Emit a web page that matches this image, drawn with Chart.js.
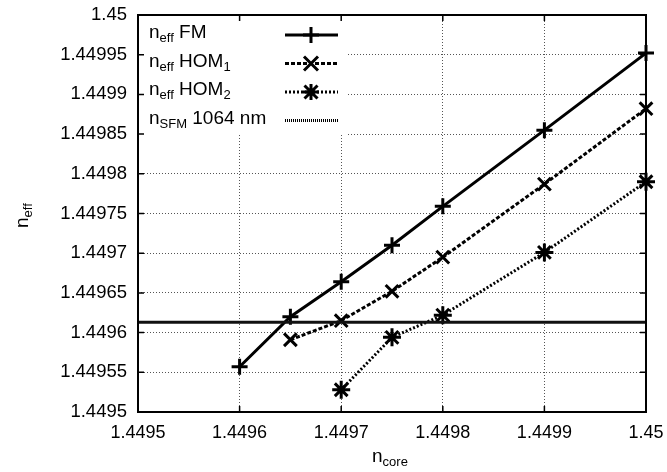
<!DOCTYPE html>
<html lang="en">
<head>
  <meta charset="UTF-8">
  <title>n_eff vs n_core</title>
  <script src="https://cdn.jsdelivr.net/npm/chart.js"></script>
  <style>
    html, body { margin: 0; padding: 0; background: #fff; }
    #wrap { width: 667px; height: 472px; }
  </style>
</head>
<body>
  <div id="wrap"><canvas id="chart"></canvas></div>

  <script>
    // data
    const fmX = [1.4496, 1.44965, 1.4497, 1.44975, 1.4498, 1.4499, 1.45];
    const fmVals = [1.449557, 1.44962, 1.449664, 1.44971, 1.449759, 1.449855, 1.449952];
    const hom1X = [1.44965, 1.4497, 1.44975, 1.4498, 1.4499, 1.45];
    const hom1Vals = [1.449591, 1.449615, 1.449652, 1.449695, 1.449787, 1.449882];
    const hom2X = [1.4497, 1.44975, 1.4498, 1.4499, 1.45];
    const hom2Vals = [1.449528, 1.449594, 1.449622, 1.449701, 1.44979];
    const sfmX = [1.4495, 1.45];
    const sfmVals = [1.449613, 1.449613];

    const xTicks = [1.4495, 1.4496, 1.4497, 1.4498, 1.4499, 1.45];
    const xTickLabels = ['1.4495', '1.4496', '1.4497', '1.4498', '1.4499', '1.45'];
    const yTicks = [1.4495, 1.44955, 1.4496, 1.44965, 1.4497, 1.44975, 1.4498, 1.44985, 1.4499, 1.44995, 1.45];
    const yTickLabels = ['1.4495', '1.44955', '1.4496', '1.44965', '1.4497', '1.44975', '1.4498', '1.44985', '1.4499', '1.44995', '1.45'];

    const FONT = '"Liberation Sans", Arial, sans-serif';
    const pts = (xs, ys) => xs.map((x, i) => ({ x: x, y: ys[i] }));

    // text with a subscript part
    function subText(ctx, x, y, main, sub, rest, size, sub2) {
      const small = Math.round(size * 0.7);
      ctx.font = size + 'px ' + FONT;
      ctx.fillText(main, x, y);
      let w = ctx.measureText(main).width;
      ctx.font = small + 'px ' + FONT;
      ctx.fillText(sub, x + w, y + size * 0.3);
      w += ctx.measureText(sub).width;
      if (rest) {
        ctx.font = size + 'px ' + FONT;
        ctx.fillText(rest, x + w, y);
        w += ctx.measureText(rest).width;
      }
      if (sub2) {
        ctx.font = small + 'px ' + FONT;
        ctx.fillText(sub2, x + w, y + size * 0.3);
      }
    }

    function marker(ctx, style, x, y) {
      ctx.save();
      ctx.lineWidth = 3;
      ctx.setLineDash([]);
      ctx.beginPath();
      if (style === 'cross' || style === 'star') {
        ctx.moveTo(x - 8, y); ctx.lineTo(x + 8, y);
        ctx.moveTo(x, y - 8); ctx.lineTo(x, y + 8);
      }
      if (style === 'crossRot' || style === 'star') {
        const r = style === 'star' ? 6.5 : 7;
        ctx.moveTo(x - r, y - r); ctx.lineTo(x + r, y + r);
        ctx.moveTo(x - r, y + r); ctx.lineTo(x + r, y - r);
      }
      ctx.stroke();
      ctx.restore();
    }

    const overlay = {
      id: 'overlay',
      beforeDatasetsDraw(chart) {
        const ctx = chart.ctx;
        const a = chart.chartArea;
        // white legend box hides the grid behind it
        ctx.save();
        ctx.fillStyle = '#fff';
        ctx.fillRect(a.left + 1, a.top + 1, 208, 119);
        ctx.restore();
      },
      afterDraw(chart) {
        const ctx = chart.ctx;
        const a = chart.chartArea;
        const xs = chart.scales.x, ys = chart.scales.y;
        ctx.save();
        ctx.strokeStyle = '#000';
        ctx.fillStyle = '#000';

        // frame
        ctx.lineWidth = 2;
        ctx.strokeRect(a.left, a.top, a.right - a.left, a.bottom - a.top);

        // inward ticks on all sides
        ctx.lineWidth = 1.5;
        ctx.beginPath();
        xTicks.forEach(v => {
          const px = xs.getPixelForValue(v);
          ctx.moveTo(px, a.bottom); ctx.lineTo(px, a.bottom - 6);
          ctx.moveTo(px, a.top); ctx.lineTo(px, a.top + 6);
        });
        yTicks.forEach(v => {
          const py = ys.getPixelForValue(v);
          ctx.moveTo(a.left, py); ctx.lineTo(a.left + 6, py);
          ctx.moveTo(a.right, py); ctx.lineTo(a.right - 6, py);
        });
        ctx.stroke();

        // legend
        const rows = [
          { sub: 'eff', rest: ' FM', dash: [], style: 'cross' },
          { sub: 'eff', rest: ' HOM', sub2: '1', dash: [4, 2], style: 'crossRot' },
          { sub: 'eff', rest: ' HOM', sub2: '2', dash: [2, 2], style: 'star' },
          { sub: 'SFM', rest: ' 1064 nm', dash: [1, 1], style: null }
        ];
        ctx.textBaseline = 'middle';
        ctx.textAlign = 'left';
        rows.forEach((r, i) => {
          const y = a.top + 20 + i * 28.5;
          subText(ctx, a.left + 11, y - 2, 'n', r.sub, r.rest, 19, r.sub2);
          ctx.lineWidth = 3;
          ctx.setLineDash(r.dash);
          ctx.beginPath();
          ctx.moveTo(a.left + 147, y);
          ctx.lineTo(a.left + 200, y);
          ctx.stroke();
          ctx.setLineDash([]);
          if (r.style) marker(ctx, r.style, a.left + 173, y);
        });

        // axis titles
        subText(ctx, 372, 457, 'n', 'core', '', 19);
        ctx.translate(23, 228);
        ctx.rotate(-Math.PI / 2);
        subText(ctx, 0, 0, 'n', 'eff', '', 19);
        ctx.restore();
      }
    };

    const base = {
      showLine: true,
      borderColor: '#000',
      backgroundColor: '#000',
      borderWidth: 3,
      pointBorderWidth: 3,
      pointBorderColor: '#000',
      tension: 0
    };

    new Chart(document.getElementById('chart'), {
      type: 'scatter',
      data: {
        datasets: [
          Object.assign({}, base, { label: 'SFM', data: pts(sfmX, sfmVals), borderColor: '#111', pointRadius: 0, pointHitRadius: 0 }),
          Object.assign({}, base, { label: 'FM', data: pts(fmX, fmVals), pointStyle: 'cross', pointRadius: 8, clip: false }),
          Object.assign({}, base, { label: 'HOM1', data: pts(hom1X, hom1Vals), borderDash: [4, 2], pointStyle: 'crossRot', pointRadius: 9, clip: false }),
          Object.assign({}, base, { label: 'HOM2', data: pts(hom2X, hom2Vals), borderDash: [2, 2], pointStyle: 'star', pointRadius: 9, clip: false })
        ]
      },
      options: {
        responsive: true,
        maintainAspectRatio: false,
        animation: false,
        layout: { padding: { left: 0, right: 21, top: 15, bottom: 0 } },
        plugins: {
          legend: { display: false },
          tooltip: { enabled: false }
        },
        scales: {
          x: {
            type: 'linear',
            min: 1.4495,
            max: 1.45,
            afterBuildTicks: s => { s.ticks = xTicks.map(v => ({ value: v })); },
            afterFit: s => { s.height = 60; s.paddingLeft = 0; s.paddingRight = 0; },
            ticks: {
              color: '#000',
              font: { family: FONT, size: 18 },
              padding: 10,
              maxRotation: 0,
              autoSkip: false,
              callback: (v, i) => xTickLabels[i]
            },
            grid: { color: '#555', lineWidth: 1, drawTicks: false },
            border: { display: false, dash: [1, 2] }
          },
          y: {
            type: 'linear',
            min: 1.4495,
            max: 1.45,
            afterBuildTicks: s => { s.ticks = yTicks.map(v => ({ value: v })); },
            afterFit: s => { s.width = 138; s.paddingTop = 0; s.paddingBottom = 0; },
            ticks: {
              color: '#000',
              font: { family: FONT, size: 18.5 },
              padding: 11,
              autoSkip: false,
              callback: (v, i) => yTickLabels[i]
            },
            grid: { color: '#555', lineWidth: 1, drawTicks: false },
            border: { display: false, dash: [1, 2] }
          }
        }
      },
      plugins: [overlay]
    });
  </script>
</body>
</html>
